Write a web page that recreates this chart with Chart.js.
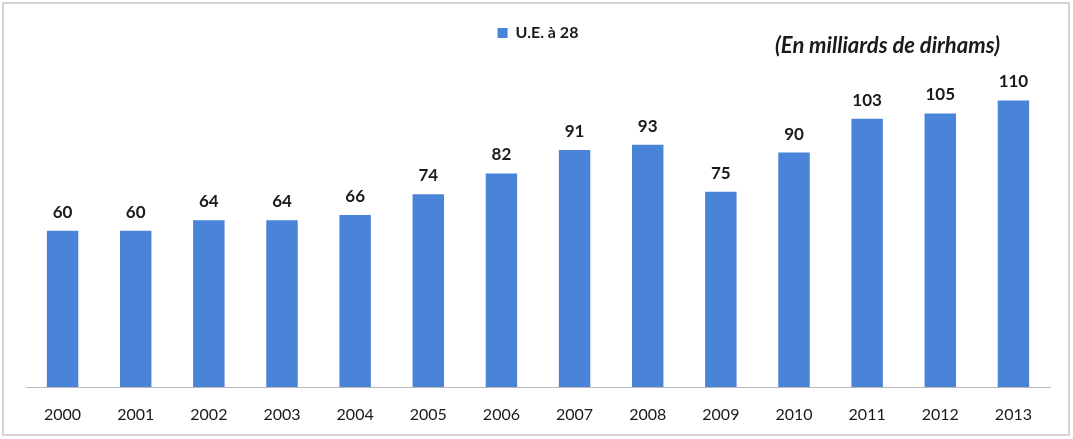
<!DOCTYPE html>
<html>
<head>
<meta charset="utf-8">
<script src="https://cdn.jsdelivr.net/npm/chart.js@4/dist/chart.umd.min.js"></script>
<style>
  html, body { margin: 0; padding: 0; background: #fff; }
  #frame {
    position: absolute; left: 2px; top: 2px; width: 1068px; height: 434px;
    box-sizing: border-box; border: 2px solid #d3d3d3; background: #fff;
  }
  #wrap { position: absolute; left: 0; top: 0; width: 1064px; height: 430px; }
</style>
</head>
<body>
<div id="frame"><div id="wrap"><canvas id="c"></canvas></div></div>
<script>
// exports to the EU-28, yearly, billions of dirhams
const years = ['2000', '2001', '2002', '2003', '2004', '2005', '2006', '2007', '2008', '2009', '2010', '2011', '2012', '2013'];
const ueValues = [60, 60, 64, 64, 66, 74, 82, 91, 93, 75, 90, 103, 105, 110];
const seriesLabel = 'U.E. à 28';
const unitNote = '(En milliards de dirhams)';

const BLUE = '#4a84d8';
const FONT = 'Lato, "Open Sans", sans-serif';

// value labels above each bar + unit note in the top right corner
const barLabels = {
  id: 'barLabels',
  afterDatasetsDraw(chart) {
    const { ctx } = chart;
    const meta = chart.getDatasetMeta(0);
    ctx.save();
    ctx.fillStyle = '#1a1a1a';
    ctx.font = 'bold 17px ' + FONT;
    ctx.textAlign = 'center';
    ctx.textBaseline = 'bottom';
    meta.data.forEach((bar, i) => {
      ctx.fillText(String(ueValues[i]), bar.x, bar.y - 10);
    });
    ctx.font = 'italic bold 22px ' + FONT;
    ctx.textAlign = 'left';
    ctx.textBaseline = 'middle';
    ctx.fillText(unitNote, 771, 42);
    ctx.restore();
  },
};

new Chart(document.getElementById('c').getContext('2d'), {
  type: 'bar',
  data: {
    labels: years,
    datasets: [{
      label: seriesLabel,
      data: ueValues,
      backgroundColor: BLUE,
      borderWidth: 0,
      categoryPercentage: 1,
      barPercentage: 0.43,
    }],
  },
  options: {
    responsive: true, maintainAspectRatio: false, animation: false,
    layout: { padding: { left: 22, right: 18, top: 11, bottom: 0 } },
    scales: {
      x: {
        grid: { display: false, drawTicks: false },
        border: { display: true, color: '#b8b8b8', width: 1 },
        ticks: { color: '#1a1a1a', padding: 18, font: { family: FONT, size: 16 } },
        afterFit(scale) { scale.height = 47; },
      },
      y: { display: false, min: 0, max: 129 },
    },
    plugins: {
      legend: {
        position: 'top',
        labels: {
          boxWidth: 10, boxHeight: 10, padding: 10, color: '#1a1a1a',
          font: { family: FONT, size: 16, weight: 'bold' },
        },
      },
      tooltip: { enabled: false },
    },
  },
  plugins: [barLabels],
});
</script>
</body>
</html>
